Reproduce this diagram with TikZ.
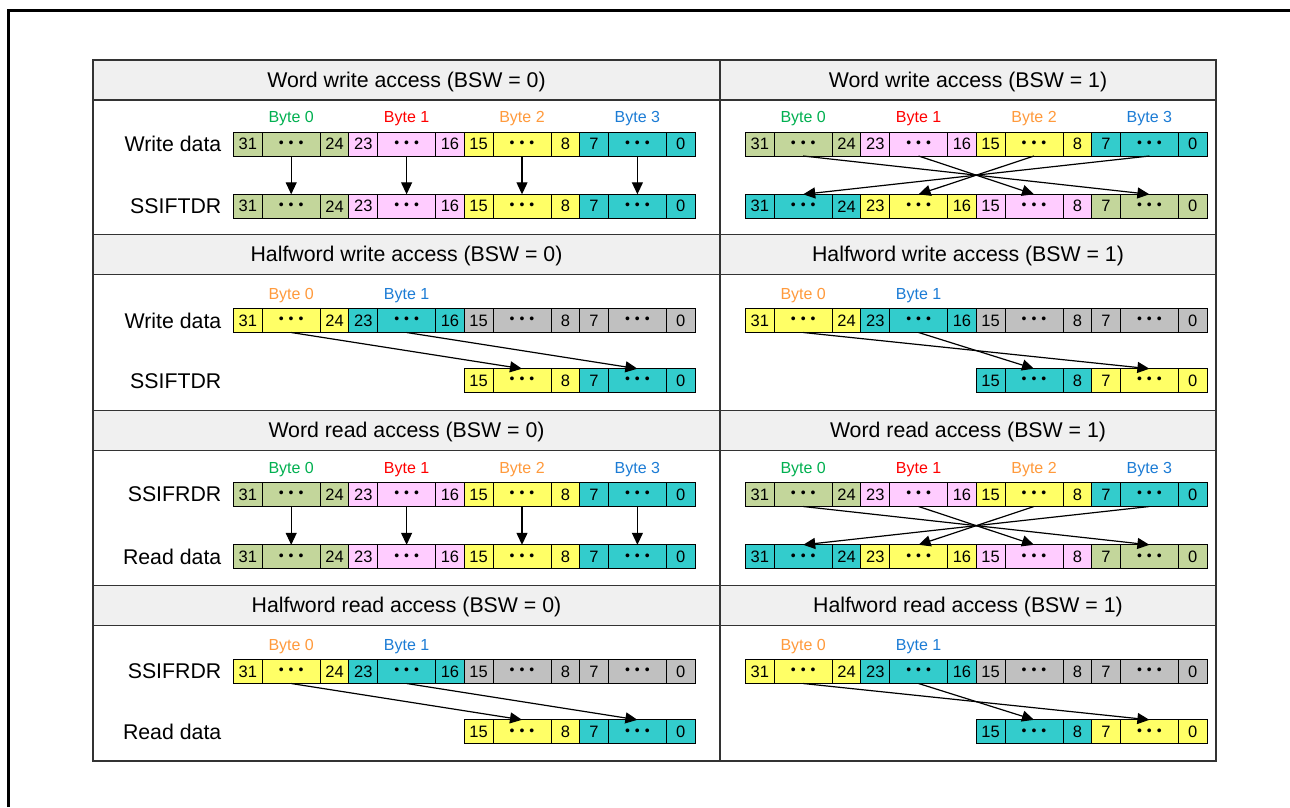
\documentclass[tikz,border=0pt]{standalone}
\usepackage{fontspec}
\setmainfont{Liberation Sans}
\usetikzlibrary{arrows.meta,calc}
\definecolor{cgreen}{HTML}{C3D69B}
\definecolor{cpink}{HTML}{FFCCFF}
\definecolor{cyel}{HTML}{FFFF66}
\definecolor{ccyan}{HTML}{33CCCC}
\definecolor{cgray}{HTML}{C0C0C0}
\definecolor{hdrfill}{HTML}{F0F0F0}
\definecolor{tgreen}{HTML}{00B050}
\definecolor{tred}{HTML}{FF0000}
\definecolor{torange}{HTML}{FF9A3C}
\definecolor{tblue}{HTML}{1C7CD5}
\definecolor{tblline}{HTML}{333333}
\newcommand\dotstext{{\fontsize{14}{14}\selectfont •\kern5pt•\kern5pt•}}
\tikzset{
 cell/.style={draw=black, line width=1pt, minimum width=28.7pt, minimum height=24pt,
   inner sep=0pt, outer sep=0pt, font=\fontsize{16.5}{17}\selectfont},
 dcell/.style={cell, minimum width=58pt},
 hdr/.style={font=\fontsize{21.3}{24}\selectfont, anchor=base, inner sep=0pt},
 rowlab/.style={font=\fontsize{21.3}{24}\selectfont, anchor=east, inner sep=0pt},
 bytelab/.style={font=\fontsize{16}{17}\selectfont, inner sep=0pt, anchor=base},
 arr/.style={line width=1.2pt, -{Triangle[length=12pt,width=11pt]}},
 tbl/.style={draw=tblline, line width=1.3pt},
}
% one byte: prefix, index, start coordinate, colour, high bit, low bit
\newcommand\onebyte[6]{%
 \node[cell,fill=#4,anchor=west] (#1h#2) at #3 {#5};
 \node[dcell,fill=#4,anchor=west] (#1d#2) at (#1h#2.east) {\dotstext};
 \node[cell,fill=#4,anchor=west] (#1l#2) at (#1d#2.east) {#6};}
\newcommand\fullreg[6]{%
 \onebyte{#1}{0}{#2}{#3}{31}{24}
 \onebyte{#1}{1}{(#1l0.east)}{#4}{23}{16}
 \onebyte{#1}{2}{(#1l1.east)}{#5}{15}{8}
 \onebyte{#1}{3}{(#1l2.east)}{#6}{7}{0}}
\newcommand\halfreg[4]{%
 \onebyte{#1}{2}{#2}{#3}{15}{8}
 \onebyte{#1}{3}{(#1l2.east)}{#4}{7}{0}}
\newcommand\wordlabs[1]{%
 \node[bytelab,text=tgreen] (#1L0) at ($(#1d0.north)+(0,-9.5)$) {Byte 0};
 \node[bytelab,text=tred] (#1L1) at ($(#1d1.north)+(0,-9.5)$) {Byte 1};
 \node[bytelab,text=torange] (#1L2) at ($(#1d2.north)+(0,-9.5)$) {Byte 2};
 \node[bytelab,text=tblue] (#1L3) at ($(#1d3.north)+(0,-9.5)$) {Byte 3};}
\newcommand\halflabs[1]{%
 \node[bytelab,text=torange] (#1L0) at ($(#1d0.north)+(0,-9.5)$) {Byte 0};
 \node[bytelab,text=tblue] (#1L1) at ($(#1d1.north)+(0,-9.5)$) {Byte 1};}
\begin{document}
\begin{tikzpicture}[x=1pt,y=-1pt]
\useasboundingbox (0,0) rectangle (1290,807);
\fill[white] (0,0) rectangle (1290,807);
\draw[line width=2.5pt] (8.5,807) -- (8.5,10.5) -- (1290,10.5);
% table
\foreach \s in {60,234.5,410.5,585.5}{
  \fill[hdrfill] (93,\s) rectangle (1216,\s+40);
  \draw[tbl] (93,\s) -- (1216,\s);
  \draw[tbl] (93,\s+40) -- (1216,\s+40);
}
\draw[tbl] (93,60) rectangle (1216,761);
\draw[tbl] (720,60) -- (720,761);
% headers
\node[hdr] (H0L) at (406.5,87.3) {Word write access (BSW = 0)};
\node[hdr] (H0R) at (968,87.3) {Word write access (BSW = 1)};
\node[hdr] (H1L) at (406.5,261.8) {Halfword write access (BSW = 0)};
\node[hdr] (H1R) at (968,261.8) {Halfword write access (BSW = 1)};
\node[hdr] (H2L) at (406.5,437.8) {Word read access (BSW = 0)};
\node[hdr] (H2R) at (968,437.8) {Word read access (BSW = 1)};
\node[hdr] (H3L) at (406.5,612.8) {Halfword read access (BSW = 0)};
\node[hdr] (H3R) at (968,612.8) {Halfword read access (BSW = 1)};
% row labels
\node[rowlab] (R0a) at (221.5,144) {Write data};
\node[rowlab] (R0b) at (221.5,206.3) {SSIFTDR};
\node[rowlab] (R1a) at (221.5,320.5) {Write data};
\node[rowlab] (R1b) at (221.5,380.7) {SSIFTDR};
\node[rowlab] (R2a) at (221.5,494.5) {SSIFRDR};
\node[rowlab] (R2b) at (221.5,556.8) {Read data};
\node[rowlab] (R3a) at (221.5,671.5) {SSIFRDR};
\node[rowlab] (R3b) at (221.5,731.8) {Read data};
% section 0: word write
\fullreg{a}{(233.5,144)}{cgreen}{cpink}{cyel}{ccyan}
\fullreg{b}{(233.5,206.3)}{cgreen}{cpink}{cyel}{ccyan}
\fullreg{c}{(745.5,144)}{cgreen}{cpink}{cyel}{ccyan}
\fullreg{d}{(745.5,206.3)}{ccyan}{cyel}{cpink}{cgreen}
\wordlabs{a}\wordlabs{c}
\foreach \i in {0,1,2,3}{\draw[arr] (ad\i.south) -- (bd\i.north);}
\draw[arr] (cd0.south) -- (dd3.north);
\draw[arr] (cd1.south) -- (dd2.north);
\draw[arr] (cd2.south) -- (dd1.north);
\draw[arr] (cd3.south) -- (dd0.north);
% section 1: halfword write
\fullreg{e}{(233.5,320.5)}{cyel}{ccyan}{cgray}{cgray}
\halfreg{f}{(464.3,380.7)}{cyel}{ccyan}
\fullreg{g}{(745.5,320.5)}{cyel}{ccyan}{cgray}{cgray}
\halfreg{k}{(976.3,380.7)}{ccyan}{cyel}
\halflabs{e}\halflabs{g}
\draw[arr] (ed0.south) -- (fd2.north);
\draw[arr] (ed1.south) -- (fd3.north);
\draw[arr] (gd0.south) -- (kd3.north);
\draw[arr] (gd1.south) -- (kd2.north);
% section 2: word read
\fullreg{m}{(233.5,494.5)}{cgreen}{cpink}{cyel}{ccyan}
\fullreg{n}{(233.5,556.8)}{cgreen}{cpink}{cyel}{ccyan}
\fullreg{o}{(745.5,494.5)}{cgreen}{cpink}{cyel}{ccyan}
\fullreg{p}{(745.5,556.8)}{ccyan}{cyel}{cpink}{cgreen}
\wordlabs{m}\wordlabs{o}
\foreach \i in {0,1,2,3}{\draw[arr] (md\i.south) -- (nd\i.north);}
\draw[arr] (od0.south) -- (pd3.north);
\draw[arr] (od1.south) -- (pd2.north);
\draw[arr] (od2.south) -- (pd1.north);
\draw[arr] (od3.south) -- (pd0.north);
% section 3: halfword read
\fullreg{q}{(233.5,671.5)}{cyel}{ccyan}{cgray}{cgray}
\halfreg{r}{(464.3,731.8)}{cyel}{ccyan}
\fullreg{s}{(745.5,671.5)}{cyel}{ccyan}{cgray}{cgray}
\halfreg{t}{(976.3,731.8)}{ccyan}{cyel}
\halflabs{q}\halflabs{s}
\draw[arr] (qd0.south) -- (rd2.north);
\draw[arr] (qd1.south) -- (rd3.north);
\draw[arr] (sd0.south) -- (td3.north);
\draw[arr] (sd1.south) -- (td2.north);
\end{tikzpicture}
\end{document}
